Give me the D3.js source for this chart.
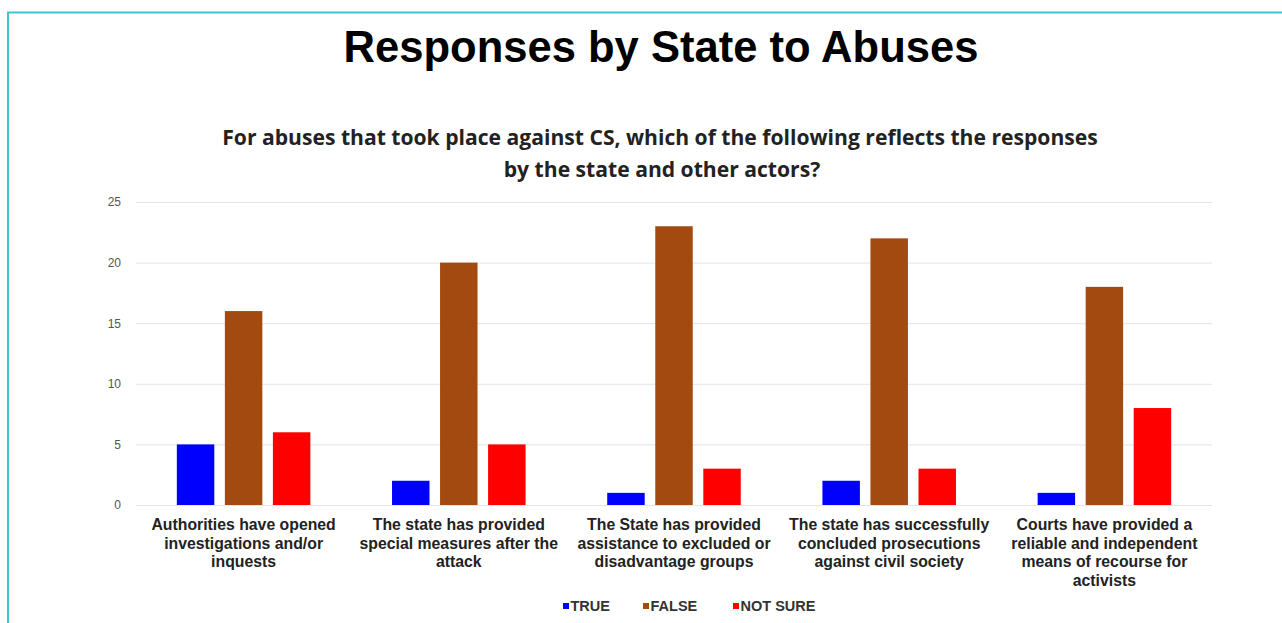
<!DOCTYPE html>
<html><head><meta charset="utf-8">
<script src="https://cdn.jsdelivr.net/npm/d3@7"></script>
<style>body{margin:0;background:#fff}svg{display:block}</style>
</head><body><svg id="c" width="1282" height="623"></svg>
<script>
const categories = [
  ["Authorities have opened","investigations and/or","inquests"],
  ["The state has provided","special measures after the","attack"],
  ["The State has provided","assistance to excluded or","disadvantage groups"],
  ["The state has successfully","concluded prosecutions","against civil society"],
  ["Courts have provided a","reliable and independent","means of recourse for","activists"]
];
const seriesNames = ["TRUE","FALSE","NOT SURE"];
const trueVals = [5,2,1,2,1];
const falseVals = [16,20,23,22,18];
const notSureVals = [6,5,3,3,8];
const yTicks = [0,5,10,15,20,25];
const colors = ["#0000ff","#a24a10","#ff0000"];
const title = "Responses by State to Abuses";
const subtitle = ["For abuses that took place against CS, which of the following reflects the responses","by the state and other actors?"];

const svg = d3.select("#c");
// frame
svg.append("line").attr("x1",7).attr("x2",1282).attr("y1",12.5).attr("y2",12.5).attr("stroke","#3ec6d2").attr("stroke-width",2);
svg.append("line").attr("x1",8).attr("x2",8).attr("y1",12).attr("y2",623).attr("stroke","#3ec6d2").attr("stroke-width",2);

function fitText(sel, w){
  const n = sel.node(); const l = n.getComputedTextLength();
  const fs = parseFloat(sel.attr("font-size"));
  sel.attr("font-size", fs*w/l);
}
const t = svg.append("text").attr("x",661).attr("y",62).attr("text-anchor","middle")
  .attr("font-family","Liberation Sans, Arial, sans-serif").attr("font-weight","bold").attr("font-size",40).attr("fill","#000").text(title);
fitText(t,635);
const s1 = svg.append("text").attr("x",660).attr("y",145).attr("text-anchor","middle")
  .attr("font-family","Open Sans, sans-serif").attr("font-weight","bold").attr("font-size",19).attr("fill","#222").text(subtitle[0]);
fitText(s1,876);
const s2 = svg.append("text").attr("x",662).attr("y",177).attr("text-anchor","middle")
  .attr("font-family","Open Sans, sans-serif").attr("font-weight","bold").attr("font-size",s1.attr("font-size")).attr("fill","#222").text(subtitle[1]);

const pL=136, pR=1212, pT=202, pB=505;
const y = d3.scaleLinear().domain([0,25]).range([pB,pT]);
const x0 = d3.scaleBand().domain(d3.range(categories.length)).range([pL,pR]).paddingInner(0).paddingOuter(0);
const x1 = d3.scaleBand().domain(seriesNames).range([0,x0.bandwidth()]).paddingInner(0.22).paddingOuter(0.85);

// grid
svg.append("g").selectAll("line").data(yTicks).join("line")
  .attr("x1",pL).attr("x2",pR).attr("y1",d=>y(d)+0.5).attr("y2",d=>y(d)+0.5)
  .attr("stroke","#e4e4e4").attr("stroke-width",1);
const yAxis = d3.axisLeft(y).tickValues(yTicks).tickSize(0).tickPadding(0);
const ya = svg.append("g").attr("transform",`translate(121,0)`).call(yAxis);
ya.select(".domain").remove();
ya.selectAll("text").attr("font-family","Liberation Sans, Arial, sans-serif").attr("font-size",12).attr("fill","#555");

const allVals = [trueVals,falseVals,notSureVals];
const groups = svg.append("g").selectAll("g").data(categories.map((c,i)=>i)).join("g")
  .attr("transform",i=>`translate(${x0(i)},0)`);
groups.selectAll("rect").data(i=>seriesNames.map((s,k)=>({s,k,v:allVals[k][i]}))).join("rect")
  .attr("x",d=>x1(d.s)).attr("width",x1.bandwidth())
  .attr("y",d=>y(d.v)).attr("height",d=>y(0)-y(d.v)).attr("fill",d=>colors[d.k]);

// category labels
const xl = svg.append("g");
categories.forEach((lines,i)=>{
  const tx = xl.append("text").attr("text-anchor","middle")
    .attr("font-family","Liberation Sans, Arial, sans-serif").attr("font-weight","bold").attr("font-size",15.8).attr("fill","#222");
  lines.forEach((ln,j)=>{
    tx.append("tspan").attr("x",x0(i)+x0.bandwidth()/2).attr("y",530+j*18.5).text(ln);
  });
});

// legend
const legX = [563,643,733];
const lg = svg.append("g");
seriesNames.forEach((n,k)=>{
  lg.append("rect").attr("x",legX[k]).attr("y",603).attr("width",6).attr("height",6).attr("fill",colors[k]);
  lg.append("text").attr("x",legX[k]+7.5).attr("y",611).attr("font-family","Liberation Sans, Arial, sans-serif")
    .attr("font-weight","bold").attr("font-size",14.5).attr("fill","#333").text(n);
});
</script></body></html>
